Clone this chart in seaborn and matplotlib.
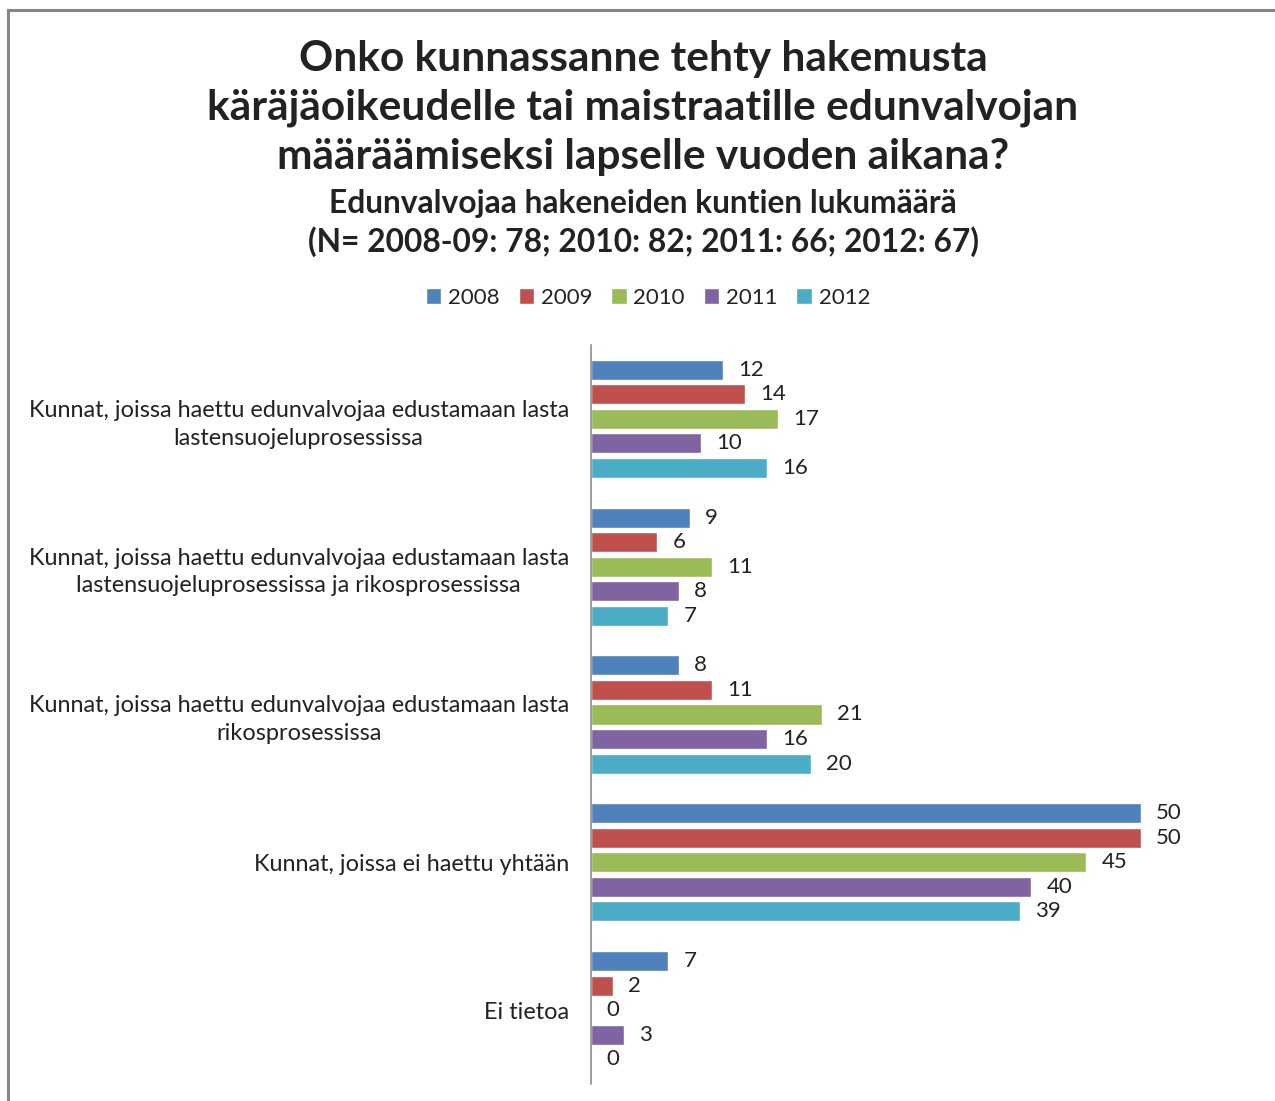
import matplotlib.pyplot as plt
import matplotlib.patches as mpatches
import seaborn as sns
import pandas as pd

CATEGORIES = [
    "Kunnat, joissa haettu edunvalvojaa edustamaan lasta\nlastensuojeluprosessissa",
    "Kunnat, joissa haettu edunvalvojaa edustamaan lasta\nlastensuojeluprosessissa ja rikosprosessissa",
    "Kunnat, joissa haettu edunvalvojaa edustamaan lasta\nrikosprosessissa",
    "Kunnat, joissa ei haettu yhtään",
    "Ei tietoa",
]
YEARS = ["2008", "2009", "2010", "2011", "2012"]
VALUES = {
    "2008": [12, 9, 8, 50, 7],
    "2009": [14, 6, 11, 50, 2],
    "2010": [17, 11, 21, 45, 0],
    "2011": [10, 8, 16, 40, 3],
    "2012": [16, 7, 20, 39, 0],
}
COLORS = ["#4F81BD", "#C0504D", "#9BBB59", "#8064A2", "#4BACC6"]

TITLE = "Onko kunnassanne tehty hakemusta\nkäräjäoikeudelle tai maistraatille edunvalvojan\nmääräämiseksi lapselle vuoden aikana?"
SUBTITLE = "Edunvalvojaa hakeneiden kuntien lukumäärä\n(N= 2008-09: 78; 2010: 82; 2011: 66; 2012: 67)"

rows = []
for year in YEARS:
    for cat, v in zip(CATEGORIES, VALUES[year]):
        rows.append({"category": cat, "year": year, "value": v})
df = pd.DataFrame(rows)

sns.set_theme(style="white")
plt.rcParams["font.family"] = ["Lato", "DejaVu Sans"]
plt.rcParams["text.color"] = "#222222"

fig = plt.figure(figsize=(12.75, 11.01), dpi=100)
ax = fig.add_axes([591 / 1275, 1 - 1084 / 1101, 660 / 1275, (1084 - 345) / 1101])

sns.barplot(data=df, y="category", x="value", hue="year", hue_order=YEARS,
            palette=COLORS, saturation=1, orient="h", width=0.83, gap=0.18,
            ax=ax, legend=True)

for cont in ax.containers:
    ax.bar_label(cont, padding=11, fontsize=16, color="#222222")

ax.set_xlim(0, 60)
ax.set_xlabel("")
ax.set_ylabel("")
ax.set_xticks([])
for s in ["top", "right", "bottom"]:
    ax.spines[s].set_visible(False)
ax.spines["left"].set_color("#8c8c8c")
ax.spines["left"].set_linewidth(1.2)
ax.tick_params(axis="y", length=0, pad=16, labelsize=16.9, labelcolor="#222222")
for lbl in ax.get_yticklabels():
    lbl.set_multialignment("center")
    lbl.set_linespacing(1.4)

handles, labels = ax.get_legend_handles_labels()
ax.legend_.remove()
fig.legend(handles, labels, loc="center", bbox_to_anchor=(648 / 1275, 1 - 298 / 1101),
           ncol=5, frameon=False, fontsize=16, handlelength=0.7, handleheight=0.7,
           handletextpad=0.3, columnspacing=0.85)

fig.text(643 / 1275, 1 - 108 / 1101, TITLE, ha="center", va="center", fontsize=30.5,
         fontweight="bold", linespacing=1.36)
fig.text(643 / 1275, 1 - 223 / 1101, SUBTITLE, ha="center", va="center", fontsize=22.9,
         fontweight="bold", linespacing=1.36)

frame = mpatches.Rectangle((8 / 1275, -0.05), 1.2, 1 - 10 / 1101 + 0.05, transform=fig.transFigure,
                           fill=False, edgecolor="#868686", linewidth=2.2)
fig.add_artist(frame)

fig.savefig("out.png", dpi=100)
